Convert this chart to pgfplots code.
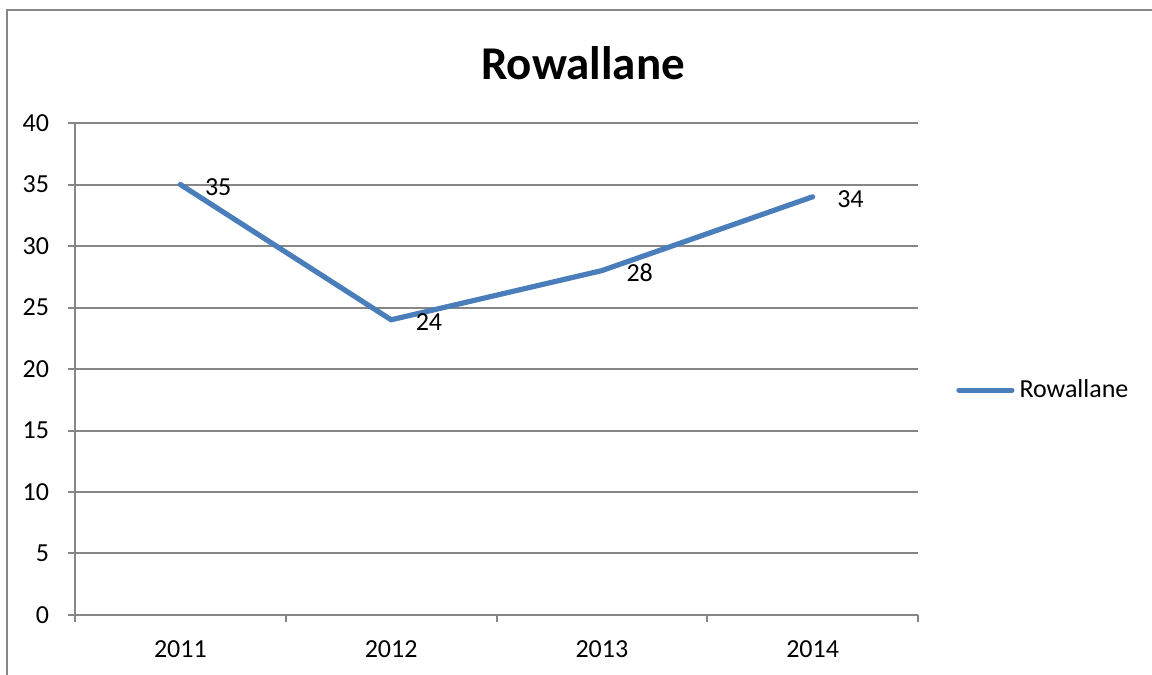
\documentclass[border=0pt]{standalone}
\usepackage{pgfplots}
\pgfplotsset{compat=1.18}
\usepackage{fontspec}
\setmainfont{Carlito}
\definecolor{gridgray}{RGB}{134,134,134}
\definecolor{lineblue}{RGB}{74,126,187}
\begin{document}
\begin{tikzpicture}[x=1pt,y=1pt]
\useasboundingbox (0,0) rectangle (576,337.5);
\draw[gridgray, line width=1pt] (3.5,0) -- (3.5,332.25) -- (576,332.25);
\node[font=\fontsize{23.5}{28}\selectfont\bfseries] at (291.5,306) {Rowallane};
\begin{axis}[
  at={(37.5pt,30pt)}, anchor=south west,
  scale only axis, width=421.5pt, height=246pt,
  xmin=-0.5, xmax=3.5, ymin=0, ymax=40,
  xtick={-0.5,0.5,1.5,2.5,3.5}, xticklabels={},
  extra x ticks={0,1,2,3},
  extra x tick labels={2011,2012,2013,2014},
  extra x tick style={major tick length=0pt, grid=none,
    xticklabel style={yshift=-9.5pt}},
  ytick={0,5,...,40},
  yticklabel style={xshift=-6pt},
  ymajorgrids, grid style={gridgray, line width=1pt},
  axis x line*=bottom, axis y line*=left,
  axis line style={-, gridgray, line width=1pt},
  tick align=outside, major tick length=3.5pt,
  tick style={gridgray, line width=1pt},
  tick label style={font=\fontsize{13}{15}\selectfont},
  /pgf/number format/assume math mode=true,
  legend style={at={(1.0450,0.457)}, anchor=west, draw=none, fill=none,
    inner sep=0pt, font=\fontsize{13}{15}\selectfont,
    nodes={inner sep=2.5pt}},
  legend cell align=left,
  legend image code/.code={\draw[#1] (0pt,0pt) -- (26.5pt,0pt);},
  nodes near coords,
  every node near coord/.append style={anchor=west, xshift=7.7pt, yshift=-1.3pt,
    font=\fontsize{13}{15}\selectfont, text=black},
]
\addplot[lineblue, line width=2.6pt, line join=round, line cap=round, mark=none] coordinates {
  (0,35) (1,24) (2,28) (3,34)
};
\addlegendentry{Rowallane}
\end{axis}
\end{tikzpicture}
\end{document}
